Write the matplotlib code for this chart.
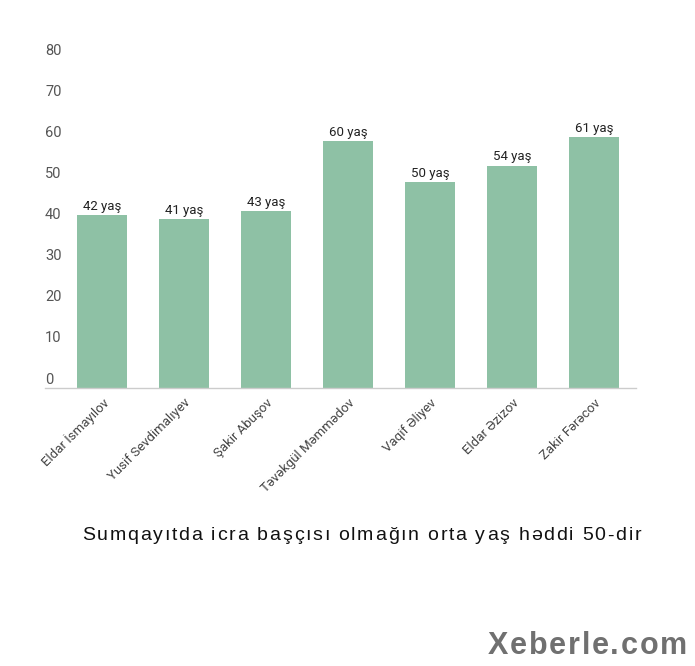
import matplotlib
matplotlib.use("Agg")
import matplotlib.pyplot as plt

names = ["Eldar İsmayılov", "Yusif Sevdimalıyev", "Şakir Abuşov",
         "Təvəkgül Məmmədov", "Vaqif Əliyev", "Eldar Əzizov", "Zakir Fərəcov"]
ages = [42, 41, 43, 60, 50, 54, 61]
yticks = [0, 10, 20, 30, 40, 50, 60, 70, 80]
title = "Sumqayıtda icra başçısı olmağın orta yaş həddi 50-dir"
mark = "Xeberle.com"

W, H = 695, 666
fig = plt.figure(figsize=(W / 100, H / 100), dpi=100)
ax = fig.add_axes([45 / W, (H - 388) / H, (636 - 45) / W, (388 - 59) / H])

x = list(range(len(names)))
ax.bar(x, ages, width=0.61, color="#8ec1a5", zorder=2)
for xi, v in zip(x, ages):
    ax.text(xi, v + 0.6, f"{v} yaş", ha="center", va="bottom",
            fontsize=9.5, family="Roboto", color="#222222")

ax.set_xlim(-0.695, 6.51)
ax.set_ylim(0, 80)
for s in ["top", "right", "left"]:
    ax.spines[s].set_visible(False)
ax.spines["bottom"].set_color("#cccccc")
ax.spines["bottom"].set_linewidth(1)

ax.set_xticks(x)
ax.set_xticklabels(names, rotation=45, ha="right", rotation_mode="anchor",
                   fontsize=9.5, family="Roboto", color="#444444")
ax.tick_params(axis="x", length=0, pad=6)
ax.set_yticks([])
# y labels sit just above their value, left aligned at the axis edge
for t in yticks:
    ax.annotate(str(t), xy=(0, t), xycoords=("axes fraction", "data"),
                xytext=(0, 1), textcoords="offset points",
                ha="left", va="bottom", fontsize=10.5, family="Roboto",
                color="#555555")


def spaced_text(s, x0, x1, yc, **kw):
    # draw s with extra letter spacing so it spans x0..x1 (pixels)
    r = fig.canvas.get_renderer()

    def width(sub):
        t = fig.text(0, 0, sub + "|", **kw)
        b = fig.text(0, 0, "|", **kw)
        w = t.get_window_extent(r).width - b.get_window_extent(r).width
        t.remove()
        b.remove()
        return w

    last = fig.text(0, 0, s[-1], **kw)
    wl = last.get_window_extent(r).width
    last.remove()
    natural = width(s[:-1]) + wl
    sp = (x1 - x0 - natural) / (len(s) - 1)
    for i, ch in enumerate(s):
        if ch == " ":
            continue
        px = x0 + width(s[:i]) + i * sp
        fig.text(px / W, 1 - yc / H, ch, ha="left", va="center", **kw)


spaced_text(title, 82, 641, 536, fontsize=14, family="Liberation Sans",
            color="#111111")
spaced_text(mark, 488, 687, 646, fontsize=22, family="Liberation Sans",
            weight="bold", color="#707070")

fig.savefig("out.png", dpi=100)
